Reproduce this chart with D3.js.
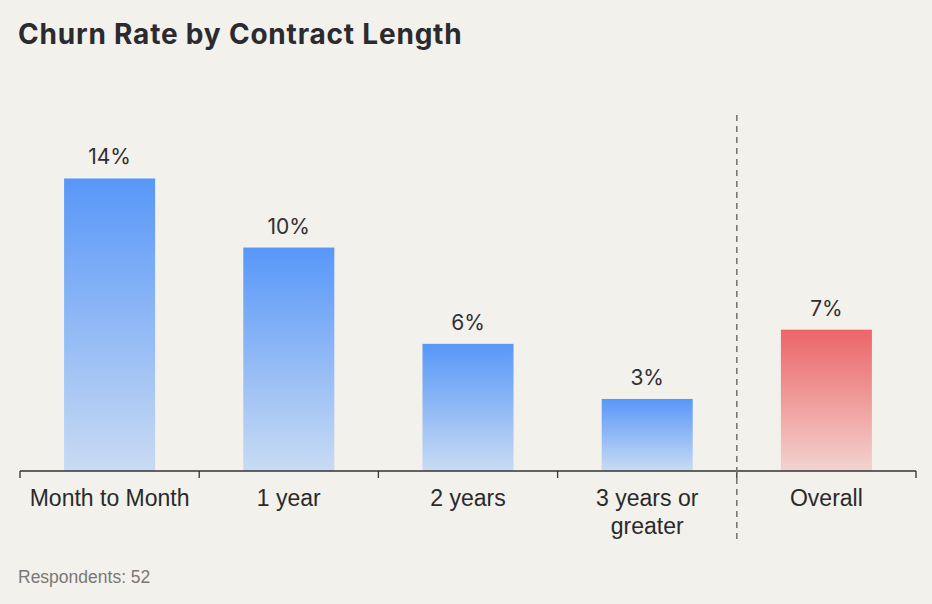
<!DOCTYPE html>
<html><head><meta charset="utf-8">
<script src="https://cdn.jsdelivr.net/npm/d3@7"></script>
<style>
html,body{margin:0;padding:0;background:#f3f1ec;}
svg{display:block;}
</style></head>
<body><div id="chart"></div>
<script>
const categories = ["Month to Month", "1 year", "2 years", "3 years or greater", "Overall"];
const labelLines = [["Month to Month"], ["1 year"], ["2 years"], ["3 years or", "greater"], ["Overall"]];
const values = [13.64, 10.42, 5.93, 3.36, 6.59];
const isOverall = [false, false, false, false, true];

const W = 932, H = 604;
const svg = d3.select("#chart").append("svg").attr("width", W).attr("height", H);
svg.append("rect").attr("width", W).attr("height", H).attr("fill", "#f3f1ec");

const defs = svg.append("defs");
const gb = defs.append("linearGradient").attr("id", "gBlue").attr("x1", 0).attr("y1", 0).attr("x2", 0).attr("y2", 1);
gb.append("stop").attr("offset", "0%").attr("stop-color", "#5897f8");
gb.append("stop").attr("offset", "100%").attr("stop-color", "#c9dbf3");
const gr = defs.append("linearGradient").attr("id", "gRed").attr("x1", 0).attr("y1", 0).attr("x2", 0).attr("y2", 1);
gr.append("stop").attr("offset", "0%").attr("stop-color", "#ec6567");
gr.append("stop").attr("offset", "100%").attr("stop-color", "#f3d3cf");

const x0 = 20, x1 = 916, base = 471;
const x = d3.scaleBand().domain(categories).range([x0, x1]).paddingInner(0.492).paddingOuter(0.246);
const y = d3.scaleLinear().domain([0, 16.6]).range([base, 115]);

svg.append("text").attr("x", 18).attr("y", 44)
  .attr("font-family", "Inter, 'Noto Sans', sans-serif").attr("font-weight", 700)
  .attr("font-size", 28).attr("letter-spacing", 0.8).attr("fill", "#2b2a2e").text("Churn Rate by Contract Length");

svg.selectAll("rect.bar").data(categories).enter().append("rect").attr("class", "bar")
  .attr("x", d => x(d)).attr("width", x.bandwidth())
  .attr("y", (d, i) => y(values[i])).attr("height", (d, i) => base - y(values[i]))
  .attr("fill", (d, i) => isOverall[i] ? "url(#gRed)" : "url(#gBlue)");

svg.selectAll("text.val").data(categories).enter().append("text").attr("class", "val")
  .attr("x", d => x(d) + x.bandwidth() / 2).attr("y", (d, i) => y(values[i]) - 14)
  .attr("text-anchor", "middle").attr("font-family", "Inter, 'Noto Sans', sans-serif")
  .attr("font-size", 21).attr("fill", "#2f2f33").text((d, i) => Math.round(values[i]) + "%");

// axis
const step = x.step();
const tickXs = d3.range(categories.length + 1).map(i => x0 + i * step);
svg.append("line").attr("x1", x0).attr("x2", x1).attr("y1", base).attr("y2", base)
  .attr("stroke", "#333").attr("stroke-width", 1.3);
svg.selectAll("line.tick").data(tickXs).enter().append("line").attr("class", "tick")
  .attr("x1", d => d).attr("x2", d => d).attr("y1", base).attr("y2", base + 7)
  .attr("stroke", "#333").attr("stroke-width", 1.3);

// separator
const sepX = x0 + 4 * step;
svg.append("line").attr("x1", sepX).attr("x2", sepX).attr("y1", 115).attr("y2", 540)
  .attr("stroke", "#7a7875").attr("stroke-width", 1.6).attr("stroke-dasharray", "6,5");

const lab = svg.selectAll("text.cat").data(categories).enter().append("text").attr("class", "cat")
  .attr("x", d => x(d) + x.bandwidth() / 2).attr("y", 506)
  .attr("text-anchor", "middle").attr("font-family", "'Liberation Sans', Arial, sans-serif")
  .attr("font-size", 23).attr("fill", "#2a2a2a");
lab.each(function(d, i) {
  const t = d3.select(this);
  labelLines[i].forEach((ln, j) => {
    t.append("tspan").attr("x", x(d) + x.bandwidth() / 2).attr("dy", j === 0 ? 0 : 28).text(ln);
  });
});

svg.append("text").attr("x", 18).attr("y", 583)
  .attr("font-family", "'Liberation Sans', Arial, sans-serif").attr("font-size", 17.5)
  .attr("fill", "#7a7874").text("Respondents: 52");
</script></body></html>
